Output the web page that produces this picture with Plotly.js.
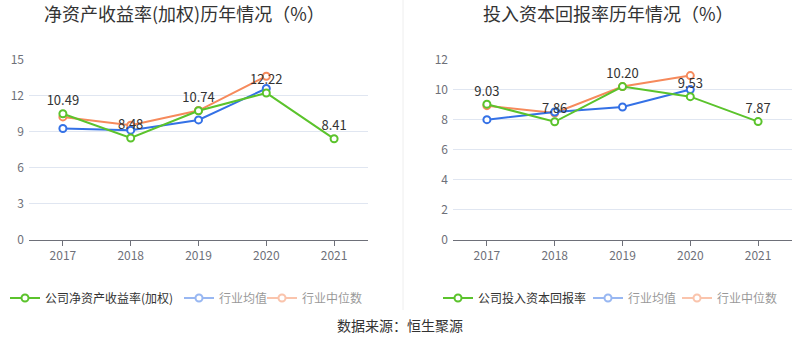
<!DOCTYPE html>
<html><head><meta charset="utf-8">
<script src="https://cdn.plot.ly/plotly-3.0.1.min.js"></script>
<style>html,body{margin:0;padding:0;background:#fff}#c{width:800px;height:358px}</style>
</head><body><div id="c"></div>
<script>
const years = ['2017','2018','2019','2020','2021'];
const roeCompany = [10.49, 8.48, 10.74, 12.22, 8.41];
const roeMean = [9.27, 9.13, 9.98, 12.59, null];
const roeMedian = [10.23, 9.54, 10.76, 13.61, null];
const roicCompany = [9.03, 7.86, 10.20, 9.53, 7.87];
const roicMean = [8.00, 8.51, 8.84, 10.00, null];
const roicMedian = [8.93, 8.44, 10.20, 10.93, null];
const roeTicks = [0, 3, 6, 9, 12, 15];
const roicTicks = [0, 2, 4, 6, 8, 10, 12];

const GREEN = '#5bc32c', BLUE = '#3471e6', ORANGE = '#f68a5c';
const font = 'Noto Sans CJK SC, Noto Sans, sans-serif';

function line(x, y, name, color, xa, ya, opts) {
  return Object.assign({
    type: 'scatter', x: x, y: y, name: name, xaxis: xa, yaxis: ya,
    mode: 'lines+markers', line: {color: color, width: 2},
    marker: {symbol: 'circle', size: 7, color: '#fff', line: {color: color, width: 2}},
    hoverinfo: 'skip', cliponaxis: false
  }, opts || {});
}
function labelled(x, y, name, color, xa, ya, leg) {
  return line(x, y, name, color, xa, ya, {
    mode: 'lines+markers+text', text: y.map(v => v.toFixed(2)), textposition: 'top center',
    textfont: {size: 13, color: '#333', family: font}, legend: leg, showlegend: true
  });
}
function ghost(x, y, name, color, xa, ya, leg) {
  return line(x, y, name, color, xa, ya, {visible: 'legendonly', legend: leg, showlegend: true});
}

const data = [
  line(years, roeMedian, '行业中位数', ORANGE, 'x', 'y', {showlegend: false}),
  line(years, roeMean, '行业均值', BLUE, 'x', 'y', {showlegend: false}),
  labelled(years, roeCompany, '公司净资产收益率(加权)', GREEN, 'x', 'y', 'legend'),
  ghost(years, roeMean, '行业均值', BLUE, 'x', 'y', 'legend2'),
  ghost(years, roeMedian, '行业中位数', ORANGE, 'x', 'y', 'legend3'),
  line(years, roicMedian, '行业中位数', ORANGE, 'x2', 'y2', {showlegend: false}),
  line(years, roicMean, '行业均值', BLUE, 'x2', 'y2', {showlegend: false}),
  labelled(years, roicCompany, '公司投入资本回报率', GREEN, 'x2', 'y2', 'legend4'),
  ghost(years, roicMean, '行业均值', BLUE, 'x2', 'y2', 'legend5'),
  ghost(years, roicMedian, '行业中位数', ORANGE, 'x2', 'y2', 'legend6')
];

const xax = {
  type: 'category', range: [-0.5, 4.5], showgrid: false, zeroline: false,
  showline: true, linecolor: '#6e7079', linewidth: 1,
  ticks: 'outside', ticklen: 5, tickcolor: '#6e7079',
  tickfont: {size: 12, color: '#6e7079', family: font}, fixedrange: true
};
const yax = {
  showgrid: true, gridcolor: '#e0e6f1', gridwidth: 1, zeroline: false, showline: false,
  ticks: '', tickfont: {size: 12, color: '#6e7079', family: font}, ticklabelstandoff: 4, fixedrange: true
};
const ydom = [1 - 240/358, 1 - 59.5/358];
function leg(px) {
  return {orientation: 'h', yanchor: 'middle', y: 1 - 298/358, xanchor: 'left', x: px/800,
    font: {size: 12, color: '#333', family: font}, bgcolor: 'rgba(0,0,0,0)',
    itemclick: false, itemdoubleclick: false, tracegroupgap: 0};
}

const layout = {
  width: 800, height: 358, margin: {l: 0, r: 0, t: 0, b: 0},
  paper_bgcolor: '#fff', plot_bgcolor: '#fff',
  xaxis: Object.assign({}, xax, {domain: [29/800, 368/800], anchor: 'y'}),
  yaxis: Object.assign({}, yax, {domain: ydom, range: [0, 15], tickvals: roeTicks, anchor: 'x'}),
  xaxis2: Object.assign({}, xax, {domain: [453/800, 792/800], anchor: 'y2'}),
  yaxis2: Object.assign({}, yax, {domain: ydom, range: [0, 12], tickvals: roicTicks, anchor: 'x2'}),
  legend: leg(5), legend2: leg(179), legend3: leg(262),
  legend4: leg(438), legend5: leg(588), legend6: leg(677),
  shapes: [{type: 'line', xref: 'paper', yref: 'paper', x0: 403/800, x1: 403/800, y0: 1, y1: 1 - 310/358,
    line: {color: '#eeeeee', width: 1}}],
  annotations: [
    {text: '净资产收益率(加权)历年情况（%）', xref: 'paper', yref: 'paper', x: 184/800, y: 1 - 13/358,
     xanchor: 'center', yanchor: 'middle', showarrow: false, font: {size: 18, color: '#333', family: font}},
    {text: '投入资本回报率历年情况（%）', xref: 'paper', yref: 'paper', x: 608/800, y: 1 - 13/358,
     xanchor: 'center', yanchor: 'middle', showarrow: false, font: {size: 18, color: '#333', family: font}},
    {text: '数据来源：恒生聚源', xref: 'paper', yref: 'paper', x: 400/800, y: 1 - 325/358,
     xanchor: 'center', yanchor: 'middle', showarrow: false, font: {size: 14, color: '#333', family: font}}
  ],
  showlegend: true, hovermode: false
};
Plotly.newPlot('c', data, layout, {displayModeBar: false, staticPlot: true});
</script></body></html>
